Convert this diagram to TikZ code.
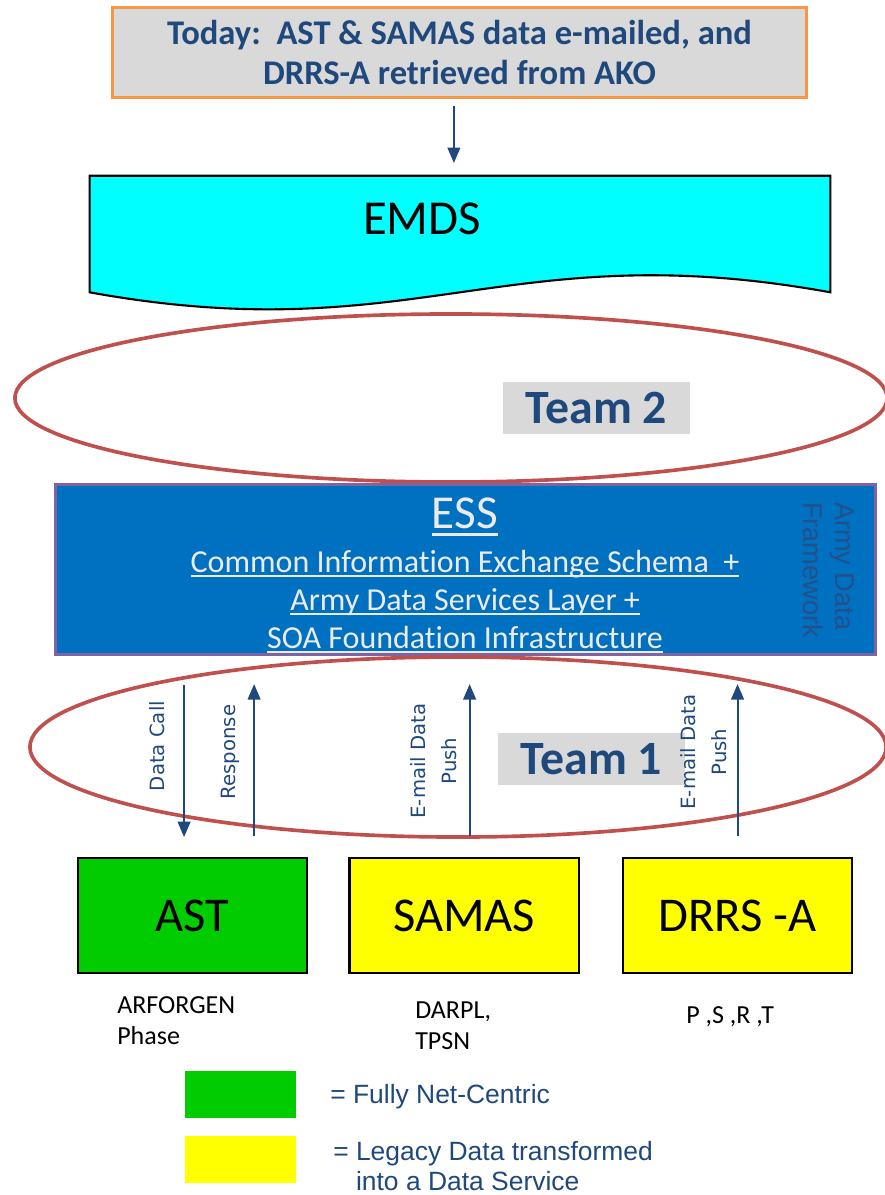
\documentclass[tikz,border=0pt]{standalone}
\usepackage{fontspec}
\setmainfont{Carlito}[Ligatures=NoCommon]
\newfontfamily\verdfont{DejaVu Sans}
\newfontfamily\arialfont{Liberation Sans}
\usetikzlibrary{arrows.meta,positioning,shapes.geometric}

\definecolor{navy}{HTML}{1F497D}
\definecolor{boxgray}{HTML}{D9D9D9}
\definecolor{orangeline}{HTML}{F79646}
\definecolor{ringred}{HTML}{C0504D}
\definecolor{essblue}{HTML}{0070C0}
\definecolor{esspurple}{HTML}{8064A2}
\definecolor{netgreen}{HTML}{00CC00}
\definecolor{legacyyellow}{HTML}{FFFF00}
\definecolor{emdscyan}{HTML}{00FFFF}
\definecolor{framecol}{HTML}{24508A}

% underlined text in the ESS box
\newcommand{\essul}[1]{\setbox0\hbox{#1}\rlap{\usebox0}\rule[-0.17em]{\wd0}{0.07em}}

\begin{document}
\begin{tikzpicture}[x=0.025cm,y=-0.025cm,>={Triangle[length=11pt,width=9pt]},every node/.style={inner sep=0pt},
  todaybox/.style={draw=orangeline,line width=2pt,fill=boxgray,minimum width=17.33cm,minimum height=2.23cm,align=center,text=navy,font=\fontsize{24.6}{28.5}\selectfont\bfseries},
  ring/.style={ellipse,draw=ringred,line width=2.6pt},
  teamtag/.style={fill=boxgray,minimum width=4.68cm,minimum height=1.3cm,text=navy,font=\fontsize{34}{36}\selectfont\bfseries},
  sysbox/.style={draw=black,line width=1.6pt,minimum width=5.73cm,minimum height=2.88cm,font=\fontsize{34.5}{36}\selectfont},
  flow/.style={->,draw=navy,line width=1.4pt},
  flowlabel/.style={rotate=90,align=center,text=navy,font=\verdfont\fontsize{14}{22}\selectfont},
  esstext/.style={anchor=base,text=white!92!black,font=\fontsize{22.75}{27}\selectfont},
  notetext/.style={anchor=north west,align=left,font=\fontsize{18.5}{22}\selectfont},
  legendtext/.style={align=left,text=navy,font=\arialfont\fontsize{18.8}{21.5}\selectfont},
  swatch/.style={minimum width=2.78cm,minimum height=1.18cm}]
\useasboundingbox (0,0) rectangle (884,1195);

\node[todaybox] (today) at (459.5,52.5) {Today:\ \ AST \& SAMAS data e-mailed, and\\DRRS-A retrieved from AKO};

% EMDS document shape
\node[minimum width=18.5cm,minimum height=2.9cm] (emds) at (460,234) {};
\draw[fill=emdscyan,line width=1.5pt] (emds.north west) -- (emds.north east) -- (emds.south east)
  .. controls +(-325,-59) and +(325,59) .. (emds.south west) -- cycle;
\node[font=\fontsize{34.7}{38}\selectfont] (emdslabel) at (422,219) {EMDS};
\draw[flow,shorten <=5pt,shorten >=9pt] ([xshift=-4pt]today.south) -- ([xshift=-4pt]today.south |- emds.north);

\node[ring,minimum width=21.8cm,minimum height=4.2cm] (team2ring) at (451,398) {};
\node[teamtag] (team2) at (596.5,408) {Team 2};

% ESS
\node[draw=esspurple,line width=2pt,fill=essblue,minimum width=20.5cm,minimum height=4.25cm] (ess) at (465.5,569.5) {};
\node[esstext,font=\fontsize{33.6}{36}\selectfont] (esstitle) at (465,528) {\essul{ESS}};
\node[esstext] (essline1) at (465,572) {\essul{Common Information Exchange Schema\ \ +}};
\node[esstext] (essline2) at (465,610) {\essul{Army Data Services Layer +}};
\node[esstext] (essline3) at (465,648) {\essul{SOA Foundation Infrastructure}};
\node[rotate=-90,align=left,text=framecol,font=\arialfont\fontsize{19.3}{23}\selectfont] (framework) at (829,570) {Army Data\\Framework};

\node[ring,minimum width=21.4cm,minimum height=4.5cm] (team1ring) at (458,747) {};
\node[teamtag] (team1) at (591.5,759) {Team 1};

% source systems
\node[sysbox,fill=netgreen] (ast) at (192.5,915.5) {AST};
\node[sysbox,fill=legacyyellow,right=1cm of ast] (samas) {SAMAS};
\node[sysbox,fill=legacyyellow,right=1.05cm of samas] (drrs) {DRRS -A};

\draw[flow,shorten <=21pt,shorten >=14pt] ([xshift=-6pt]ast.north |- ess.south) -- ([xshift=-6pt]ast.north);
\draw[flow,shorten <=15pt,shorten >=20pt] ([xshift=1.54cm]ast.north) -- ([xshift=1.54cm]ast.north |- ess.south);
\draw[flow,shorten <=15pt,shorten >=20pt] ([xshift=0.14cm]samas.north) -- ([xshift=0.14cm]samas.north |- ess.south);
\draw[flow,shorten <=15pt,shorten >=20pt] (drrs.north) -- (drrs.north |- ess.south);

\node[flowlabel] (datacall) at (157,746) {Data Call};
\node[flowlabel] (response) at (230,752) {Response};
\node[flowlabel] (samaspush) at (434,761) {E-mail Data\\Push};
\node[flowlabel] (drrspush) at (704,752) {E-mail Data\\Push};

\node[notetext] (astnote) at (117,996) {ARFORGEN\\Phase};
\node[notetext] (samasnote) at (415,1002) {DARPL,\\TPSN};
\node[notetext] (drrsnote) at (686,1006) {P ,S ,R ,T};

% legend
\node[swatch,fill=netgreen] (greenkey) at (240.5,1094.5) {};
\node[swatch,fill=legacyyellow,below=0.43cm of greenkey] (yellowkey) {};
\node[legendtext,anchor=base west] (greentext) at (330,1103) {= Fully Net-Centric};
\node[legendtext,anchor=north west] (yellowtext) at (333,1141) {= Legacy Data transformed\\\phantom{= }into a Data Service};
\end{tikzpicture}
\end{document}
